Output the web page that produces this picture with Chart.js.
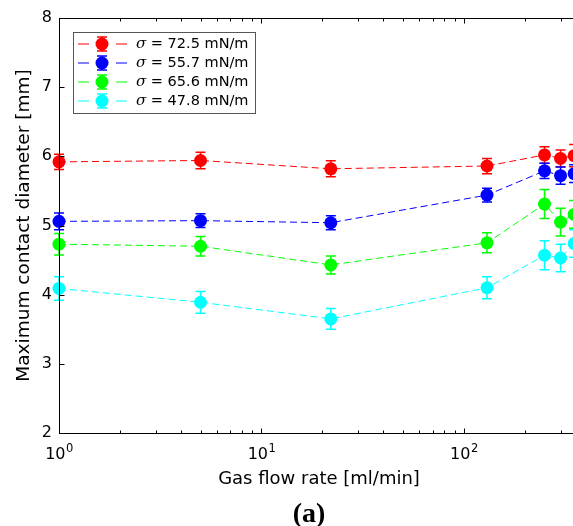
<!DOCTYPE html>
<html>
<head>
<meta charset="utf-8">
<script src="https://cdn.jsdelivr.net/npm/chart.js@4.4.0/dist/chart.umd.min.js"></script>
<style>
html, body { margin: 0; padding: 0; background: #fff; overflow: hidden; }
#wrap { width: 600px; height: 526px; }
</style>
</head>
<body>
<div id="wrap"><canvas id="chart" width="600" height="526"></canvas></div>
<script>
// gas flow rate [ml/min]
const flowRate = [1, 5, 22, 130, 250, 300, 350]

// surface tension values used in legend
const seriesLabels = ['72.5 mN/m', '55.7 mN/m', '65.6 mN/m', '47.8 mN/m']
const seriesColors = ['#ff0000', '#0000ff', '#00ff00', '#00ffff']

// maximum contact diameter [mm]
const sigma725 = [5.92, 5.94, 5.82, 5.86, 6.02, 5.97, 6.01]
const sigma557 = [5.06, 5.07, 5.04, 5.44, 5.79, 5.72, 5.75]
const sigma656 = [4.73, 4.70, 4.43, 4.75, 5.31, 5.05, 5.16]
const sigma478 = [4.09, 3.89, 3.65, 4.10, 4.57, 4.53, 4.74]

// half error bar
const err725 = [0.11, 0.12, 0.115, 0.11, 0.12, 0.12, 0.16]
const err557 = [0.12, 0.10, 0.10, 0.10, 0.11, 0.125, 0.13]
const err656 = [0.155, 0.14, 0.13, 0.145, 0.21, 0.20, 0.20]
const err478 = [0.17, 0.157, 0.15, 0.16, 0.21, 0.20, 0.20]

const xMajorTicks = [1, 10, 100]
const xTickExponents = ['0', '1', '2']
const xMin = 1
const xMax = 370
const yMin = 2
const yMax = 8

const values = [sigma725, sigma557, sigma656, sigma478]
const errors = [err725, err557, err656, err478]
const FONT = "'DejaVu Sans', 'Noto Sans', sans-serif"

const errorBars = {
    id: 'errorBars',
    beforeDatasetsDraw(chart) {
        const { ctx, scales: { x, y } } = chart
        ctx.save()
        ctx.lineWidth = 1.5
        values.forEach((vals, i) => {
            ctx.strokeStyle = seriesColors[i]
            vals.forEach((v, j) => {
                const px = x.getPixelForValue(flowRate[j])
                const top = y.getPixelForValue(v + errors[i][j])
                const bot = y.getPixelForValue(v - errors[i][j])
                ctx.beginPath()
                ctx.moveTo(px, top); ctx.lineTo(px, bot)
                ctx.moveTo(px - 5, top); ctx.lineTo(px + 5, top)
                ctx.moveTo(px - 5, bot); ctx.lineTo(px + 5, bot)
                ctx.stroke()
            })
        })
        ctx.restore()
    }
}

const frame = {
    id: 'frame',
    afterDraw(chart) {
        const { ctx, chartArea: a, scales: { x, y } } = chart
        const L = Math.round(a.left) + 0.5, R = Math.round(a.right) + 0.5
        const T = Math.round(a.top) + 0.5, B = Math.round(a.bottom) + 0.5
        ctx.save()
        ctx.strokeStyle = '#000'
        ctx.lineWidth = 1
        ctx.strokeRect(L, T, R - L, B - T)
        ctx.beginPath()
        // log ticks on x
        for (let d = 1; d <= xMax; d *= 10) {
            for (let k = 1; k <= 9; k++) {
                const v = k * d
                if (v < xMin || v > xMax) continue
                const px = Math.round(x.getPixelForValue(v)) + 0.5
                const len = k === 1 ? 5 : 3
                ctx.moveTo(px, B); ctx.lineTo(px, B - len)
                ctx.moveTo(px, T); ctx.lineTo(px, T + len)
            }
        }
        // integer ticks on y
        for (let v = yMin; v <= yMax; v++) {
            const py = Math.round(y.getPixelForValue(v)) + 0.5
            ctx.moveTo(L, py); ctx.lineTo(L + 5, py)
            ctx.moveTo(R, py); ctx.lineTo(R - 5, py)
        }
        ctx.stroke()

        // x tick labels as 10^n
        ctx.fillStyle = '#000'
        ctx.textBaseline = 'alphabetic'
        ctx.textAlign = 'left'
        xMajorTicks.forEach((v, i) => {
            const px = x.getPixelForValue(v)
            ctx.font = '16px ' + FONT
            const w1 = ctx.measureText('10').width
            ctx.font = '11.5px ' + FONT
            const w2 = ctx.measureText(xTickExponents[i]).width
            const x0 = px - (w1 + w2) / 2
            ctx.font = '16px ' + FONT
            ctx.fillText('10', x0, 459)
            ctx.font = '11.5px ' + FONT
            ctx.fillText(xTickExponents[i], x0 + w1 + 0.5, 452)
        })

        // panel label
        ctx.font = "bold 28px 'Liberation Serif', 'DejaVu Serif', serif"
        ctx.textAlign = 'center'
        ctx.fillText('(a)', 309, 522)
        ctx.restore()
    }
}

const legendBox = {
    id: 'legendBox',
    afterDraw(chart) {
        const { ctx } = chart
        ctx.save()
        ctx.fillStyle = '#fff'
        ctx.fillRect(73.5, 32.5, 182, 81)
        ctx.strokeStyle = '#555'
        ctx.lineWidth = 1
        ctx.strokeRect(73.5, 32.5, 182, 81)
        seriesLabels.forEach((label, i) => {
            const cy = 44 + i * 19
            const c = seriesColors[i]
            ctx.strokeStyle = c
            ctx.lineWidth = 1
            ctx.setLineDash([11, 27])
            ctx.beginPath()
            ctx.moveTo(78, cy); ctx.lineTo(127, cy)
            ctx.stroke()
            ctx.setLineDash([])
            ctx.lineWidth = 1.5
            ctx.beginPath()
            ctx.moveTo(102, cy - 7); ctx.lineTo(102, cy + 7)
            ctx.moveTo(97, cy - 7); ctx.lineTo(107, cy - 7)
            ctx.moveTo(97, cy + 7); ctx.lineTo(107, cy + 7)
            ctx.stroke()
            ctx.fillStyle = c
            ctx.beginPath()
            ctx.arc(102, cy, 6.5, 0, Math.PI * 2)
            ctx.fill()
            ctx.fillStyle = '#000'
            ctx.textBaseline = 'middle'
            ctx.textAlign = 'left'
            ctx.font = "italic 15px 'DejaVu Serif', serif"
            ctx.fillText('\u03c3', 136, cy)
            const sw = ctx.measureText('\u03c3').width
            ctx.font = '14.5px ' + FONT
            ctx.fillText(' = ' + label, 136 + sw, cy)
        })
        ctx.restore()
    }
}

const datasets = values.map((vals, i) => ({
    label: seriesLabels[i],
    data: vals.map((v, j) => ({ x: flowRate[j], y: v })),
    borderColor: seriesColors[i],
    backgroundColor: seriesColors[i],
    borderWidth: 1,
    borderDash: [7, 4],
    pointRadius: 6.5,
    pointBorderWidth: 0,
    pointBackgroundColor: seriesColors[i],
    tension: 0,
    clip: false
}))

new Chart(document.getElementById('chart'), {
    type: 'line',
    data: { datasets },
    options: {
        responsive: false,
        animation: false,
        events: [],
        layout: { padding: { top: 18, left: 0, right: 21, bottom: 0 } },
        plugins: {
            legend: { display: false },
            tooltip: { enabled: false }
        },
        scales: {
            x: {
                type: 'logarithmic',
                min: xMin,
                max: xMax,
                grid: { display: false, drawTicks: false },
                border: { display: false },
                ticks: { display: false },
                title: {
                    display: true,
                    text: 'Gas flow rate [ml/min]',
                    color: '#000',
                    font: { family: FONT, size: 18 },
                    padding: { top: 0, bottom: 36 }
                },
                afterFit(scale) { scale.height = 93 }
            },
            y: {
                min: yMin,
                max: yMax,
                grid: { display: false, drawTicks: false },
                border: { display: false },
                ticks: {
                    stepSize: 1,
                    color: '#000',
                    padding: 7,
                    font: { family: FONT, size: 16 }
                },
                title: {
                    display: true,
                    text: 'Maximum contact diameter [mm]',
                    color: '#000',
                    font: { family: FONT, size: 18.5 },
                    padding: { top: 13, bottom: 0 }
                },
                afterFit(scale) { scale.width = 59 }
            }
        }
    },
    plugins: [errorBars, frame, legendBox]
})
</script>
</body>
</html>
